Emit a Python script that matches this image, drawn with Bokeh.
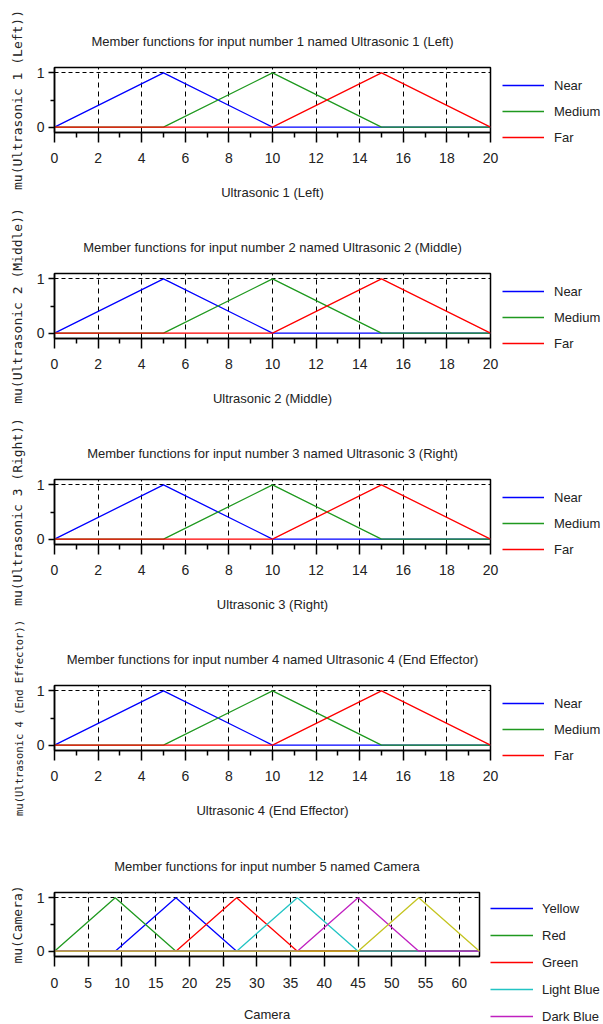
from bokeh.plotting import figure
from bokeh.models import Range1d, FixedTicker, Legend, LegendItem
from bokeh.layouts import column, row
from bokeh.embed import file_html
from bokeh.resources import INLINE

# ---------------- data ----------------
# Ultrasonic inputs (all four share the same membership functions)
us_names = ["Near", "Medium", "Far"]
us_colors = ["#0000ff", "#1f991f", "#ff0000"]
near_x = [0, 5, 10, 20]
near_y = [0, 1, 0, 0]
medium_x = [0, 5, 10, 15, 20]
medium_y = [0, 0, 1, 0, 0]
far_x = [0, 10, 15, 20]
far_y = [0, 0, 1, 0]
us_xticks = [0, 2, 4, 6, 8, 10, 12, 14, 16, 18, 20]
us_xminor = [1, 3, 5, 7, 9, 11, 13, 15, 17, 19]

us_titles = [
    "Member functions for input number 1 named Ultrasonic 1 (Left)",
    "Member functions for input number 2 named Ultrasonic 2 (Middle)",
    "Member functions for input number 3 named Ultrasonic 3 (Right)",
    "Member functions for input number 4 named Ultrasonic 4 (End Effector)",
]
us_labels = ["Ultrasonic 1 (Left)", "Ultrasonic 2 (Middle)",
             "Ultrasonic 3 (Right)", "Ultrasonic 4 (End Effector)"]

# Camera input
cam_names = ["Yellow", "Red", "Green", "Light Blue", "Dark Blue", None]
cam_colors = ["#0000ff", "#1f991f", "#ff0000", "#22c4c4", "#c020c0", "#c4c420"]
yellow_x = [0, 9, 18, 27, 63]
yellow_y = [0, 0, 1, 0, 0]
red_x = [0, 9, 18, 63]
red_y = [0, 1, 0, 0]
green_x = [0, 18, 27, 36, 63]
green_y = [0, 0, 1, 0, 0]
lightblue_x = [0, 27, 36, 45, 63]
lightblue_y = [0, 0, 1, 0, 0]
darkblue_x = [0, 36, 45, 54, 63]
darkblue_y = [0, 0, 1, 0, 0]
mf6_x = [0, 45, 54, 63]
mf6_y = [0, 0, 1, 0]
cam_xticks = [0, 5, 10, 15, 20, 25, 30, 35, 40, 45, 50, 55, 60]
y_ticks = [0, 1]
y_minor = [0.5]

REG = "Liberation Sans"
MONO = "DejaVu Sans Mono"
TXT = "#222222"


def panel(title, xlabel, ylabel, xmax, xticks, xminor, series, height,
          top, bottom, plot_w, leg_w, leg_loc, spacing, glyph_w, standoff,
          tick_standoff, label_standoff, ylabel_size="13px"):
    p = figure(width=plot_w, height=height, output_backend="svg",
               toolbar_location=None, frame_align=False,
               x_range=Range1d(0, xmax), y_range=Range1d(-0.1, 1.1),
               min_border_left=54, min_border_right=10,
               min_border_top=top, min_border_bottom=bottom)
    p.background_fill_color = "white"
    p.border_fill_color = "white"
    p.outline_line_color = "black"
    p.outline_line_width = 1.5

    p.title.text = title
    p.title.align = "center"
    p.title.text_font = REG
    p.title.text_font_size = "13px"
    p.title.text_font_style = "normal"
    p.title.text_color = TXT
    p.title.standoff = 38

    interior = [t for t in xticks if 0 < t < xmax]
    p.xgrid.ticker = FixedTicker(ticks=interior)
    p.xgrid.grid_line_color = "black"
    p.xgrid.grid_line_dash = "5 4"
    p.xgrid.grid_line_width = 1
    p.ygrid.ticker = FixedTicker(ticks=[1])
    p.ygrid.grid_line_color = "black"
    p.ygrid.grid_line_dash = "4 3"
    p.ygrid.grid_line_width = 1

    xa = p.xaxis[0]
    xa.ticker = FixedTicker(ticks=xticks, minor_ticks=xminor)
    xa.axis_label = xlabel
    xa.axis_label_text_font = REG
    xa.axis_label_text_font_size = "13px"
    xa.axis_label_text_font_style = "normal"
    xa.axis_label_text_color = TXT
    xa.axis_label_standoff = label_standoff
    xa.major_label_text_font = REG
    xa.major_label_text_font_size = "14px"
    xa.major_label_text_color = TXT
    xa.major_label_standoff = tick_standoff
    xa.major_tick_out = 10
    xa.major_tick_in = 0
    xa.minor_tick_out = 5
    xa.minor_tick_in = 0
    xa.axis_line_width = 1.5
    xa.major_tick_line_width = 1.5
    xa.minor_tick_line_width = 1.5

    ya = p.yaxis[0]
    ya.ticker = FixedTicker(ticks=y_ticks, minor_ticks=y_minor)
    ya.axis_label = ylabel
    ya.axis_label_text_font = MONO
    ya.axis_label_text_font_size = ylabel_size
    ya.axis_label_text_font_style = "normal"
    ya.axis_label_text_color = TXT
    ya.axis_label_standoff = 9
    ya.major_label_text_font = REG
    ya.major_label_text_font_size = "14px"
    ya.major_label_text_color = TXT
    ya.major_label_standoff = 4
    ya.major_tick_out = 6
    ya.major_tick_in = 0
    ya.minor_tick_out = 4
    ya.minor_tick_in = 0
    ya.axis_line_width = 1.5
    ya.major_tick_line_width = 1.5
    ya.minor_tick_line_width = 1.5

    # legend lives in its own small canvas to the right of the plot;
    # its view range lies outside the data so only the legend is seen there
    lf = figure(width=leg_w, height=height, output_backend="svg",
                toolbar_location=None, x_axis_type=None, y_axis_type=None,
                x_range=Range1d(-3, -2), y_range=Range1d(-3, -2),
                min_border=0, title_location=None, frame_align=False)
    lf.outline_line_color = None
    lf.background_fill_color = "white"
    lf.border_fill_color = "white"

    items = []
    for name, color, xs, ys in series:
        p.line(xs, ys, line_color=color, line_width=1.3)
        if name is not None:
            r = lf.line(xs, ys, line_color=color, line_width=1.6)
            items.append(LegendItem(label=name, renderers=[r]))

    leg = Legend(items=items, location=leg_loc, margin=0, padding=0,
                 spacing=spacing, glyph_width=glyph_w, glyph_height=16,
                 label_height=16, label_standoff=standoff,
                 label_text_font=REG, label_text_font_size="13px",
                 label_text_color=TXT,
                 border_line_alpha=0, background_fill_alpha=0)
    lf.add_layout(leg, "center")
    return row(p, lf, spacing=0)


us_series = [
    (us_names[0], us_colors[0], near_x, near_y),
    (us_names[1], us_colors[1], medium_x, medium_y),
    (us_names[2], us_colors[2], far_x, far_y),
]
rows = []
for i in range(4):
    ysize = "10.5px" if len(us_labels[i]) > 22 else "13px"
    rows.append(panel(us_titles[i], us_labels[i], "mu(" + us_labels[i] + ")",
                      20, us_xticks, us_xminor, us_series, 206, 67, 74,
                      500, 103, (2, 61), 10, 42, 10, 10, 19, ysize))

cam_series = [
    (cam_names[0], cam_colors[0], yellow_x, yellow_y),
    (cam_names[1], cam_colors[1], red_x, red_y),
    (cam_names[2], cam_colors[2], green_x, green_y),
    (cam_names[3], cam_colors[3], lightblue_x, lightblue_y),
    (cam_names[4], cam_colors[4], darkblue_x, darkblue_y),
    (cam_names[5], cam_colors[5], mf6_x, mf6_y),
]
rows.append(panel("Member functions for input number 5 named Camera", "Camera",
                  "mu(Camera)", 63, cam_xticks, [], cam_series, 200, 68, 67,
                  489, 114, (1, 0), 11, 43, 9, 11, 16))

layout = column(*rows, spacing=0)
open("out.html", "w").write(file_html(layout, INLINE))
